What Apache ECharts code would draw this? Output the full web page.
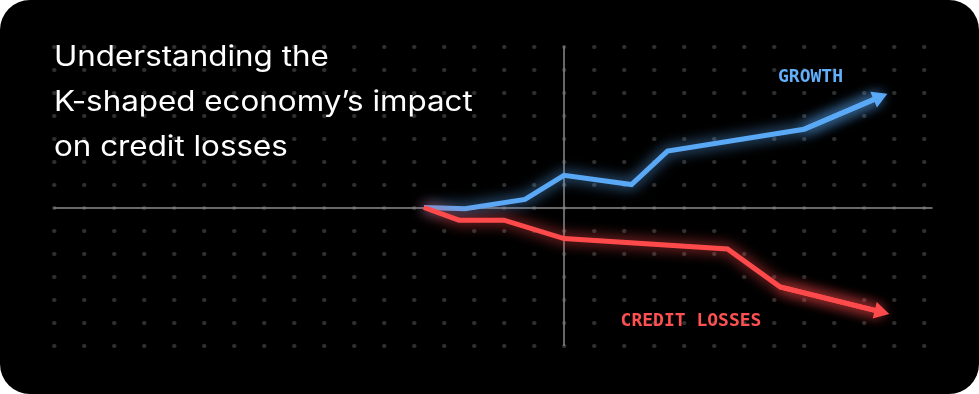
<!DOCTYPE html>
<html>
<head>
<meta charset="utf-8">
<style>
  html, body { margin: 0; padding: 0; background: #ffffff; }
  #chart { width: 979px; height: 394px; }
</style>
<script src="https://cdn.jsdelivr.net/npm/echarts@6/dist/echarts.min.js"></script>
</head>
<body>
<div id="chart"></div>
<script>
// ---- data ----
const titleLines = ["Understanding the", "K-shaped economy’s impact", "on credit losses"];
const growthName = "GROWTH";
const lossName = "CREDIT LOSSES";
const growthX = [-4.67, -3.3, -1.3, 0, 2.25, 3.45, 8.0, 10.55];
const growthY = [0, -0.05, 0.35, 1.4, 1.0, 2.45, 3.4, 4.82];
const lossX = [-4.67, -3.5, -2.0, 0, 5.45, 7.2, 10.6];
const lossY = [0, -0.55, -0.55, -1.35, -1.8, -3.45, -4.55];

const BLUE = '#5aa9f7';
const RED = '#ff4a4c';

function pairs(xs, ys) { return xs.map((x, i) => [x, ys[i]]); }
function lastSeg(xs, ys) {
  const n = xs.length;
  return [[{ coord: [xs[n - 2], ys[n - 2]] }, { coord: [xs[n - 1], ys[n - 1]] }]];
}

const chart = echarts.init(document.getElementById('chart'), null, { renderer: 'canvas' });

function lineSeries(name, xs, ys, color, z) {
  return {
    name: name,
    type: 'line',
    data: pairs(xs, ys),
    symbol: 'none',
    z: z,
    lineStyle: {
      color: color, width: 5, join: 'miter',
      shadowColor: color, shadowBlur: 14
    },
    markLine: {
      silent: true,
      symbol: ['none', 'triangle'],
      symbolSize: [17, 15],
      label: { show: false },
      lineStyle: { color: color, width: 5, type: 'solid', shadowColor: color, shadowBlur: 14 },
      emphasis: { disabled: true },
      data: lastSeg(xs, ys)
    },
    animation: false
  };
}

const titleY = [58, 103, 148];
const titleGraphics = titleLines.map((t, i) => ({
  type: 'text', z: 100, silent: true,
  x: 54, y: titleY[i], scaleX: 1.12,
  style: {
    text: t, fill: '#ffffff',
    font: '400 28px Inter',
    align: 'left', verticalAlign: 'middle'
  }
}));

chart.setOption({
  animation: false,
  backgroundColor: 'transparent',
  graphic: [
    {
      type: 'rect', z: -100, silent: true,
      shape: { x: 0, y: 0, width: 979, height: 394, r: 30 },
      style: { fill: '#000000' }
    },
    ...titleGraphics,
    {
      type: 'text', z: 100, silent: true,
      x: 810.5, y: 77.5,
      style: {
        text: growthName, fill: '#62b0fb',
        font: 'bold 18px "DejaVu Sans Mono"',
        align: 'center', verticalAlign: 'middle',
        shadowColor: BLUE, shadowBlur: 8
      }
    },
    {
      type: 'text', z: 100, silent: true,
      x: 691, y: 321.7,
      style: {
        text: lossName, fill: '#ff5052',
        font: 'bold 18px "DejaVu Sans Mono"',
        align: 'center', verticalAlign: 'middle',
        shadowColor: RED, shadowBlur: 8
      }
    }
  ],
  grid: { left: 54, top: 46.5, width: 878, height: 299, containLabel: false },
  xAxis: {
    type: 'value', min: -17, max: 12.2667, interval: 1,
    axisLine: { show: true, onZero: true, lineStyle: { color: '#8a8a8a', width: 1.5 } },
    axisTick: { show: false }, axisLabel: { show: false },
    splitLine: { show: false }
  },
  yAxis: {
    type: 'value', min: -6, max: 7, interval: 1,
    axisLine: { show: true, onZero: true, lineStyle: { color: '#8a8a8a', width: 1.5 } },
    axisTick: { show: false }, axisLabel: { show: false },
    splitLine: {
      show: true,
      lineStyle: { color: '#303030', width: 4, type: [0.5, 29.5], cap: 'round' }
    }
  },
  series: [
    lineSeries(growthName, growthX, growthY, BLUE, 3),
    lineSeries(lossName, lossX, lossY, RED, 4)
  ]
});
</script>
</body>
</html>
